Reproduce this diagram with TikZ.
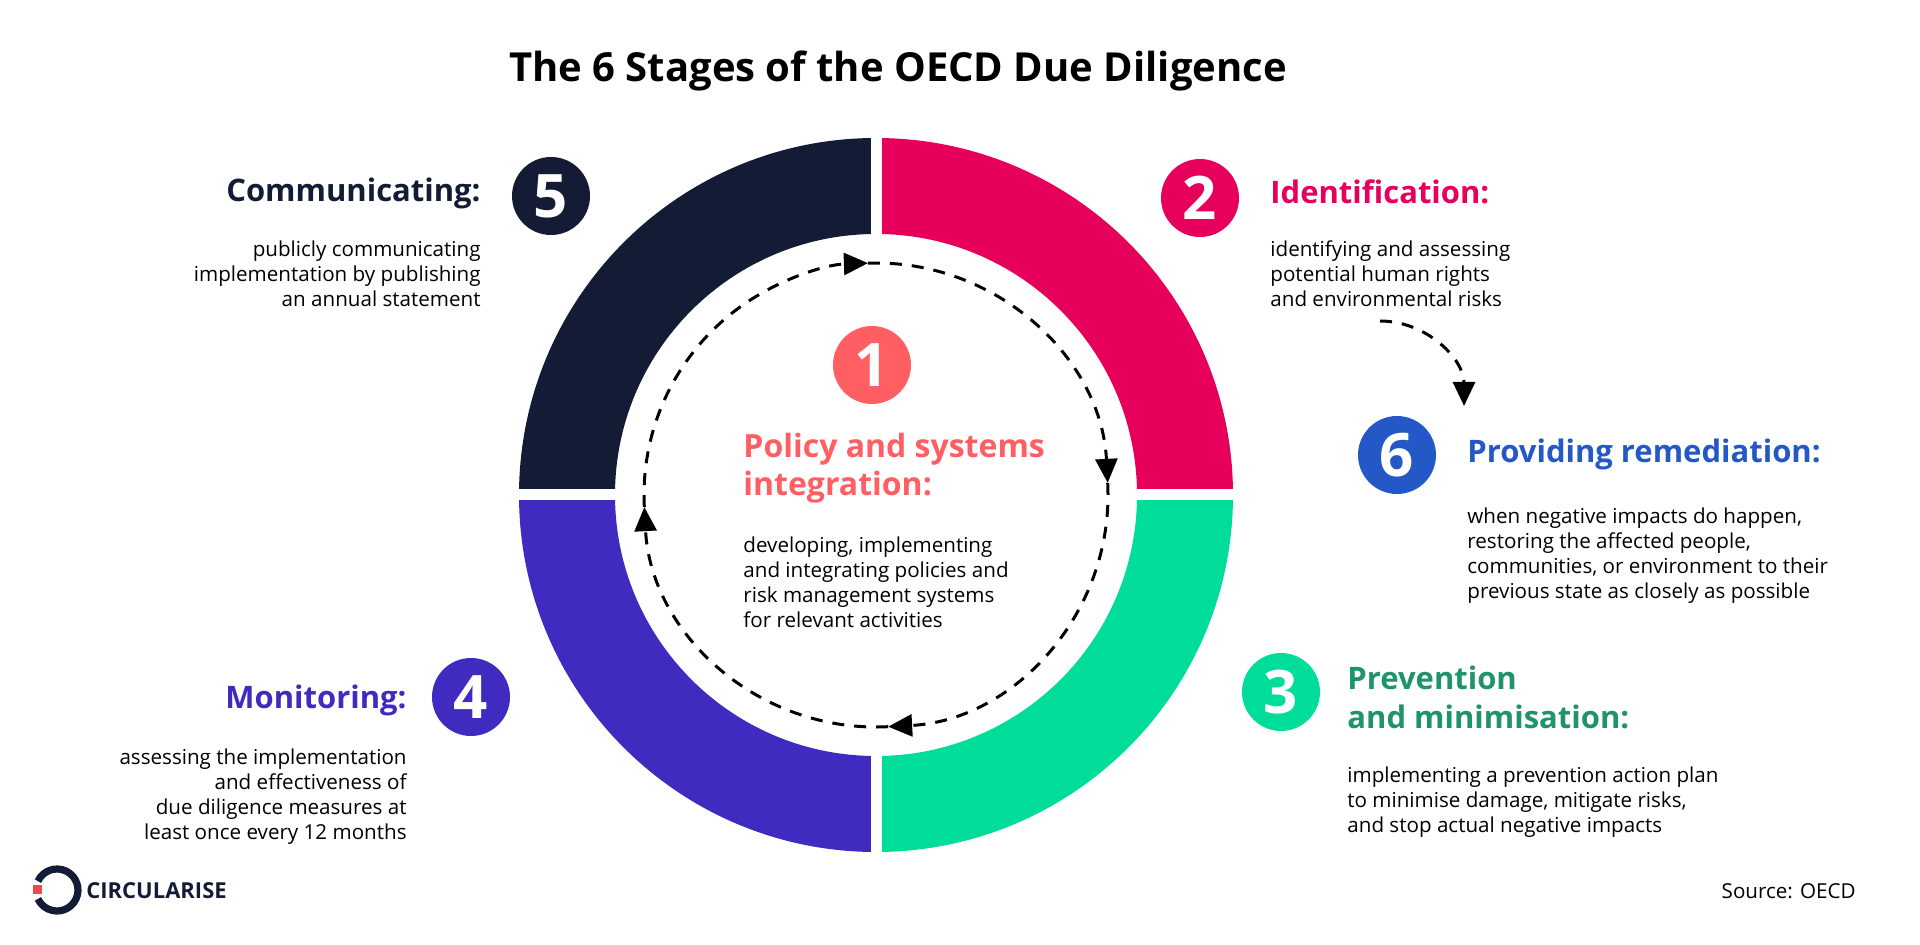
\documentclass[tikz,border=0pt]{standalone}
\usepackage{fontspec}
\setmainfont{Open Sans}
\usetikzlibrary{arrows.meta}
\definecolor{navy}{HTML}{141C35}
\definecolor{pinkred}{HTML}{E6005C}
\definecolor{mint}{HTML}{00DC9A}
\definecolor{violet}{HTML}{3F2BC0}
\definecolor{royal}{HTML}{2458C6}
\definecolor{coral}{HTML}{FF5F63}
\definecolor{teal}{HTML}{1E9468}
\definecolor{logored}{HTML}{F0474F}

\tikzset{
  numdisc/.style={circle, fill=#1, minimum size=39pt, inner sep=0pt, text=white,
    font=\fontsize{30}{30}\selectfont\bfseries},
  headtxt/.style={font=\fontsize{15.5}{18}\selectfont\bfseries, text=#1, inner sep=0pt},
  bodytxt/.style={font=\fontsize{10.3}{12.5}\selectfont, inner sep=0pt},
  flow/.style={dash pattern=on 6 off 5, line width=1.5pt, -{Triangle[length=12pt,width=11pt]}}
}

\begin{document}
\begin{tikzpicture}[x=0.5pt, y=0.5pt]
    \useasboundingbox (0,0) rectangle (1920,-945);

    % Title
    \node[font=\fontsize{20}{20}\selectfont\bfseries] (title) at (898,-71) {The 6 Stages of the OECD Due Diligence};

    % Ring quadrants
    \coordinate (ctr) at (876,-495);
    \foreach \a/\col in {0/pinkred, 90/navy, 180/violet, 270/mint} {
        \fill[\col] (ctr) ++(\a:357) arc[start angle=\a, end angle=\a+90, radius=357]
            -- ++(\a+90:-96) arc[start angle=\a+90, end angle=\a, radius=261] -- cycle;
    }
    % Gaps
    \draw[white, line width=5.5pt] (876,-130) -- (876,-860);
    \draw[white, line width=5.5pt] (510,-495) -- (1240,-495);

    % Dashed cycle
    \coordinate (pL) at ([shift={(183:232)}]ctr);
    \coordinate (pT) at ([shift={(92:232)}]ctr);
    \coordinate (pR) at ([shift={(3:232)}]ctr);
    \coordinate (pB) at ([shift={(-87:232)}]ctr);
    \draw[flow] (pL) arc[start angle=183, end angle=92, radius=232];
    \draw[flow] (pT) arc[start angle=92, end angle=3, radius=232];
    \draw[flow] (pR) arc[start angle=3, end angle=-87, radius=232];
    \draw[flow] (pB) arc[start angle=-87, end angle=-177, radius=232];

    % Stage 1
    \node[numdisc=coral] (n1) at (872,-365) {1};
    \node[headtxt=coral, anchor=north west, align=left, font=\fontsize{16}{19}\selectfont\bfseries] (h1) at (743,-433) {Policy and systems\\integration:};
    \node[bodytxt, anchor=north west, align=left] (b1) at (743,-536) {developing, implementing\\and integrating policies and\\risk management systems\\for relevant activities};

    % Stage 5
    \node[numdisc=navy] (n5) at (551,-196) {5};
    \node[headtxt=navy, anchor=east] (h5) at (481,-193) {Communicating:};
    \node[bodytxt, anchor=north east, align=right] (b5) at (481,-240) {publicly communicating\\implementation by publishing\\an annual statement};

    % Stage 2
    \node[numdisc=pinkred] (n2) at (1200,-198) {2};
    \node[headtxt=pinkred, anchor=west] (h2) at (1270,-192) {Identification:};
    \node[bodytxt, anchor=north west, align=left] (b2) at (1270,-240) {identifying and assessing\\potential human rights\\and environmental risks};

    % Link 2 -> 6
    \coordinate (lnkA) at (1380,-321);
    \coordinate (lnkB) at (1464,-406);
    \draw[flow] (lnkA) to[out=0, in=90] (lnkB);

    % Stage 6
    \node[numdisc=royal] (n6) at (1397,-455) {6};
    \node[headtxt=royal, anchor=west] (h6) at (1467,-454) {Providing remediation:};
    \node[bodytxt, anchor=north west, align=left] (b6) at (1467,-507) {when negative impacts do happen,\\restoring the affected people,\\communities, or environment to their\\previous state as closely as possible};

    % Stage 3
    \node[numdisc=mint] (n3) at (1281,-692) {3};
    \node[headtxt=teal, anchor=north west, align=left, font=\fontsize{15.5}{19.5}\selectfont\bfseries] (h3) at (1347,-666) {Prevention\\and minimisation:};
    \node[bodytxt, anchor=north west, align=left] (b3) at (1347,-766) {implementing a prevention action plan\\to minimise damage, mitigate risks,\\and stop actual negative impacts};

    % Stage 4
    \node[numdisc=violet] (n4) at (471,-697) {4};
    \node[headtxt=violet, anchor=east] (h4) at (407,-700) {Monitoring:};
    \node[bodytxt, anchor=north east, align=right] (b4) at (407,-748) {assessing the implementation\\and effectiveness of\\due diligence measures at\\least once every 12 months};

    % Logo
    \draw[navy, line width=3.6pt] (57,-890) ++(155:21) arc[start angle=155, end angle=-155, radius=21];
    \fill[logored] (33,-885) rectangle (42,-894);
    \node[anchor=west, font=\fontsize{11}{11}\selectfont\bfseries, text=navy, inner sep=0pt] (logo) at (86,-891) {CIRCULARISE};

    % Source
    \node[bodytxt, anchor=east] (src) at (1856,-891) {Source: OECD};
\end{tikzpicture}
\end{document}
